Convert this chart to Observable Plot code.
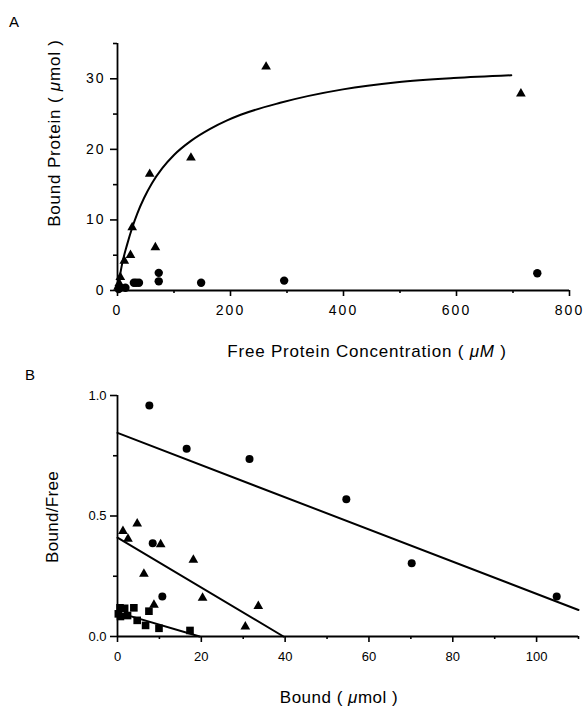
<!DOCTYPE html>
<html><head><meta charset="utf-8">
<script src="https://cdn.jsdelivr.net/npm/d3@7"></script>
<script src="https://cdn.jsdelivr.net/npm/@observablehq/plot@0.6"></script>
<style>
body{margin:0;background:#fff;}
#wrap{position:relative;width:585px;height:707px;overflow:hidden;background:#fff;}
#a,#b{position:absolute;left:0;}
#a{top:0}
#b{top:360px}
#a svg text{letter-spacing:2px;font-size:14px;}
#b svg text{font-size:13px;}
</style></head><body><div id="wrap"><div id="a"></div><div id="b"></div></div>
<script>
// ---------- Panel A: saturation binding ----------
const aTriangleFree  = [1, 3, 5, 12, 23, 26, 57, 67, 130, 263, 714];
const aTriangleBound = [0.5, 1.0, 1.9, 4.2, 5.0, 8.95, 16.5, 6.1, 18.8, 31.7, 27.9];
const aCircleFree  = [2, 5, 14, 29, 33, 38, 73, 73, 148, 295, 743];
const aCircleBound = [0.2, 0.4, 0.4, 1.1, 1.1, 1.1, 1.3, 2.5, 1.1, 1.4, 2.45];
const aFitFree  = [0, 8, 17, 26, 35, 47, 61, 79, 100, 130, 164, 194, 218, 288, 399, 495, 595, 697];
const aFitBound = [0, 3.7, 6.5, 8.9, 10.9, 13.1, 15.2, 17.3, 19.2, 21.2, 22.9, 24.1, 24.9, 26.6, 28.5, 29.5, 30.1, 30.5];
const aXTicks = [0, 200, 400, 600, 800];
const aXMinor = [100, 300, 500, 700];
const aYTicks = [0, 10, 20, 30];
const aYMinor = [5, 15, 25, 35];

// ---------- Panel B: Scatchard plot ----------
const bCircleBound = [7.6, 16.5, 31.5, 54.6, 70.2, 104.8, 8.4, 10.7];
const bCircleRatio = [0.958, 0.779, 0.737, 0.57, 0.304, 0.166, 0.387, 0.166];
const bTriangleBound = [1.3, 2.5, 4.7, 10.3, 6.3, 18.1, 20.3, 33.6, 30.5, 8.7];
const bTriangleRatio = [0.437, 0.405, 0.468, 0.382, 0.26, 0.318, 0.16, 0.126, 0.041, 0.131];
const bSquareBound = [0.2, 0.6, 0.7, 1.7, 2.4, 3.9, 4.7, 6.7, 7.5, 9.9, 17.3];
const bSquareRatio = [0.094, 0.119, 0.083, 0.117, 0.087, 0.119, 0.067, 0.046, 0.105, 0.034, 0.025];
const bCircleLineX = [0, 110],  bCircleLineY = [0.845, 0.11];
const bTriangleLineX = [0, 39.6], bTriangleLineY = [0.41, 0];
const bSquareLineX = [0, 19.6], bSquareLineY = [0.10, 0];
const bXTicks = [0, 20, 40, 60, 80, 100];
const bXMinor = [10, 30, 50, 70, 90, 110];
const bYTicks = [0, 0.5, 1.0];
const bYMinor = [0.25, 0.75];

const zip = (xs, ys) => xs.map((x, i) => ({x, y: ys[i]}));
const FONT = "'Liberation Sans', Arial, Helvetica, sans-serif";

function addText(svg, x, y, rotate, anchor, size, spacing, parts) {
  const t = d3.select(svg).append("text")
    .attr("transform", `translate(${x},${y})` + (rotate ? ` rotate(${rotate})` : ""))
    .attr("text-anchor", anchor)
    .attr("fill", "black")
    .style("font-family", FONT)
    .style("font-size", size + "px")
    .style("letter-spacing", spacing + "px");
  parts.forEach(([s, it]) => t.append("tspan").text(s).style("font-style", it ? "italic" : "normal"));
}

// Panel A
const chartA = Plot.plot({
  width: 585, height: 360,
  marginLeft: 117, marginRight: 16, marginTop: 43, marginBottom: 70,
  style: {fontFamily: FONT, fontSize: "14px", color: "black", background: "transparent", overflow: "visible"},
  x: {domain: [0, 800], nice: false},
  y: {domain: [0, 35], nice: false},
  marks: [
    Plot.axisX({ticks: aXTicks, tickSize: 6, tickPadding: 9, label: null, strokeWidth: 1.6}),
    Plot.axisX({ticks: aXMinor, tickSize: 3, tickFormat: () => "", label: null, strokeWidth: 1.6}),
    Plot.axisY({ticks: aYTicks, tickSize: 7, tickPadding: 5, label: null, strokeWidth: 1.6}),
    Plot.axisY({ticks: aYMinor, tickSize: 4, tickFormat: () => "", label: null, strokeWidth: 1.6}),
    Plot.ruleY([0], {strokeWidth: 1.8}),
    Plot.ruleX([0], {strokeWidth: 1.8}),
    Plot.line(zip(aFitFree, aFitBound), {x: "x", y: "y", stroke: "black", strokeWidth: 2, curve: "monotone-x"}),
    Plot.dot(zip(aCircleFree, aCircleBound), {x: "x", y: "y", symbol: "circle", fill: "black", r: 4.2}),
    Plot.dot(zip(aTriangleFree, aTriangleBound), {x: "x", y: "y", symbol: "triangle", fill: "black", r: 3.6})
  ]
});
document.getElementById("a").appendChild(chartA);
addText(chartA, 9, 27, 0, "start", 15, 0, [["A", false]]);
addText(chartA, 367, 357, 0, "middle", 17, 0.8, [["Free Protein Concentration ( ", false], ["μM", true], [" )", false]]);
addText(chartA, 60, 133, -90, "middle", 17, 0.8, [["Bound Protein ( ", false], ["μ", true], ["mol )", false]]);

// Panel B
const chartB = Plot.plot({
  width: 585, height: 347,
  marginLeft: 117, marginRight: 7, marginTop: 35, marginBottom: 71,
  style: {fontFamily: FONT, fontSize: "13px", color: "black", background: "transparent", overflow: "visible"},
  x: {domain: [0, 110], nice: false},
  y: {domain: [0, 1.0], nice: false},
  marks: [
    Plot.axisX({ticks: bXTicks, tickSize: 6, tickPadding: 9, label: null, strokeWidth: 1.6}),
    Plot.axisX({ticks: bXMinor, tickSize: 3, tickFormat: () => "", label: null, strokeWidth: 1.6}),
    Plot.axisY({ticks: bYTicks, tickSize: 7, tickPadding: 4, tickFormat: d3.format(".1f"), label: null, strokeWidth: 1.6}),
    Plot.axisY({ticks: bYMinor, tickSize: 4, tickFormat: () => "", label: null, strokeWidth: 1.6}),
    Plot.ruleY([0], {strokeWidth: 1.8}),
    Plot.ruleX([0], {strokeWidth: 1.8}),
    Plot.line(zip(bCircleLineX, bCircleLineY), {x: "x", y: "y", stroke: "black", strokeWidth: 2}),
    Plot.line(zip(bTriangleLineX, bTriangleLineY), {x: "x", y: "y", stroke: "black", strokeWidth: 2}),
    Plot.line(zip(bSquareLineX, bSquareLineY), {x: "x", y: "y", stroke: "black", strokeWidth: 2}),
    Plot.dot(zip(bCircleBound, bCircleRatio), {x: "x", y: "y", symbol: "circle", fill: "black", r: 4}),
    Plot.dot(zip(bTriangleBound, bTriangleRatio), {x: "x", y: "y", symbol: "triangle", fill: "black", r: 3.6}),
    Plot.dot(zip(bSquareBound, bSquareRatio), {x: "x", y: "y", symbol: "square", fill: "black", r: 4.3})
  ]
});
document.getElementById("b").appendChild(chartB);
addText(chartB, 25, 20, 0, "start", 15, 0, [["B", false]]);
addText(chartB, 339, 343, 0, "middle", 17, 0.5, [["Bound ( ", false], ["μ", true], ["mol )", false]]);
addText(chartB, 58, 157, -90, "middle", 17, 0.3, [["Bound/Free", false]]);
</script></body></html>
